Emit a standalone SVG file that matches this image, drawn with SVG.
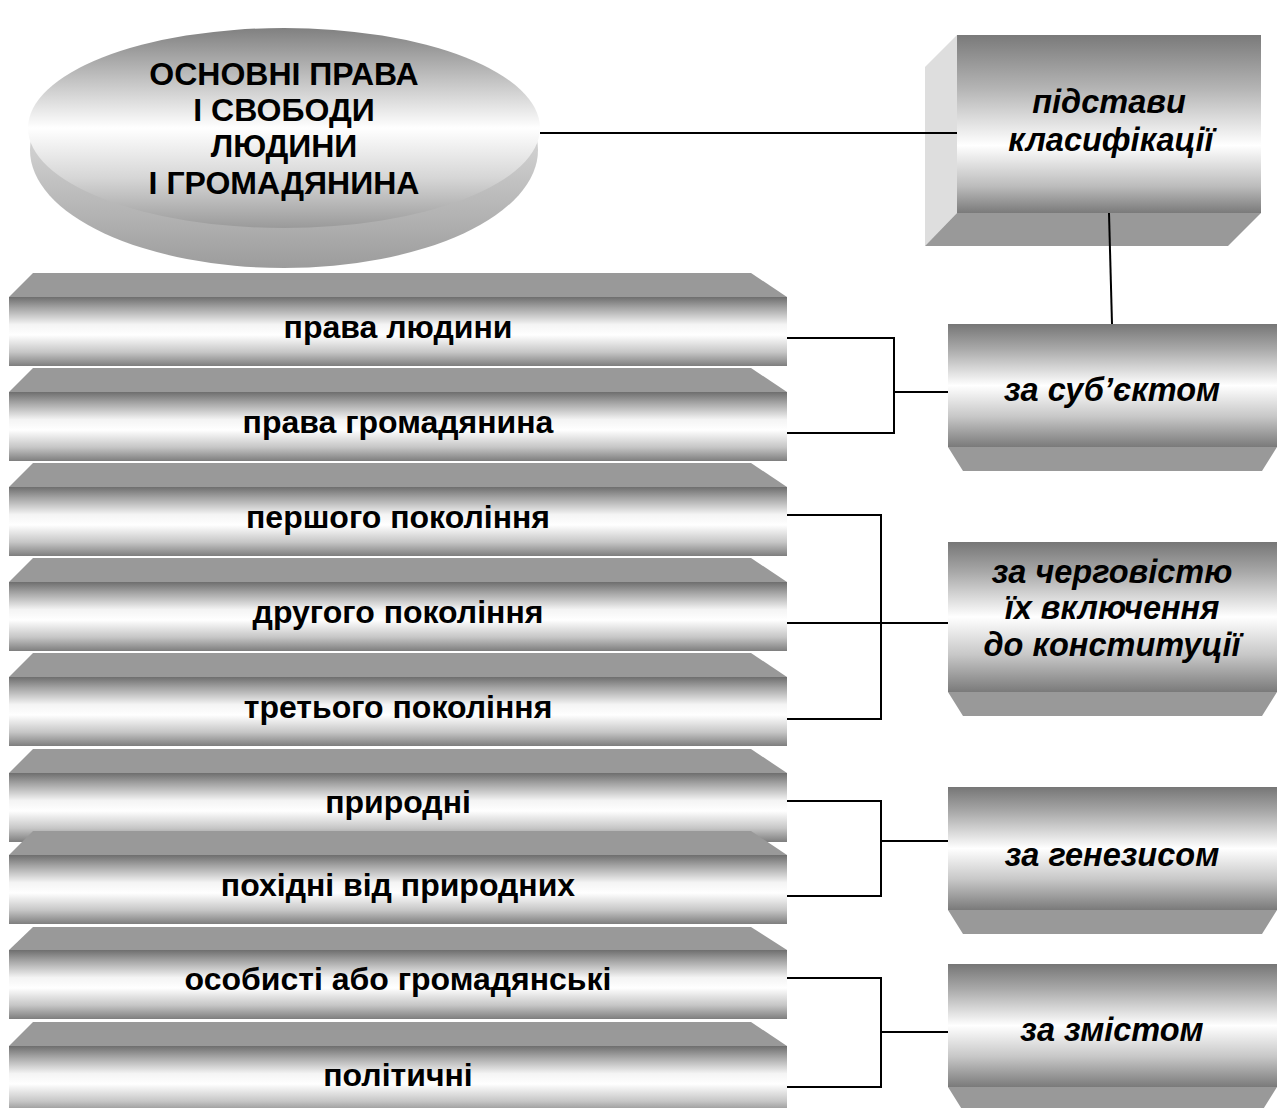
<svg xmlns="http://www.w3.org/2000/svg" width="1277" height="1108" viewBox="0 0 1277 1108">
  <defs>
    <linearGradient id="faceG" x1="0" y1="0" x2="0" y2="1">
      <stop offset="0" stop-color="#6e6e6e"/>
      <stop offset="0.15" stop-color="#a2a2a2"/>
      <stop offset="0.4" stop-color="#f4f4f4"/>
      <stop offset="0.55" stop-color="#ffffff"/>
      <stop offset="0.8" stop-color="#c6c6c6"/>
      <stop offset="1" stop-color="#7e7e7e"/>
    </linearGradient>
    <linearGradient id="boxG" x1="0" y1="0" x2="0" y2="1">
      <stop offset="0" stop-color="#767676"/>
      <stop offset="0.2" stop-color="#a8a8a8"/>
      <stop offset="0.5" stop-color="#ffffff"/>
      <stop offset="0.75" stop-color="#c8c8c8"/>
      <stop offset="1" stop-color="#7a7a7a"/>
    </linearGradient>
    <linearGradient id="topBoxG" x1="0" y1="0" x2="0" y2="1">
      <stop offset="0" stop-color="#7a7a7a"/>
      <stop offset="0.3" stop-color="#b4b4b4"/>
      <stop offset="0.62" stop-color="#ffffff"/>
      <stop offset="0.85" stop-color="#bcbcbc"/>
      <stop offset="1" stop-color="#7a7a7a"/>
    </linearGradient>
    <linearGradient id="ellTopG" x1="0" y1="0" x2="0" y2="1">
      <stop offset="0" stop-color="#808080"/>
      <stop offset="0.25" stop-color="#c0c0c0"/>
      <stop offset="0.5" stop-color="#ffffff"/>
      <stop offset="0.75" stop-color="#d6d6d6"/>
      <stop offset="1" stop-color="#9a9a9a"/>
    </linearGradient>
    <linearGradient id="ellSideG" x1="0" y1="0" x2="0" y2="1">
      <stop offset="0.5" stop-color="#cfcfcf"/>
      <stop offset="1" stop-color="#9c9c9c"/>
    </linearGradient>
    <style>
      .bev { fill: #999999; }
      .side { fill: #dedede; }
      .face { fill: url(#faceG); }
      .box { fill: url(#boxG); }
      .lbl { font-family: "Liberation Sans", Arial, sans-serif; font-weight: bold; font-size: 32px; fill: #000; text-anchor: middle; }
      .ital { font-family: "Liberation Sans", Arial, sans-serif; font-weight: bold; font-style: italic; font-size: 32.5px; fill: #000; text-anchor: middle; }
      .conn { fill: none; stroke: #000; stroke-width: 2; }
    </style>
  </defs>
  <rect width="1277" height="1108" fill="#ffffff"/>

  <g id="main-ellipse">
    <ellipse cx="284" cy="150" rx="254" ry="118" fill="url(#ellSideG)"/>
    <ellipse cx="284" cy="128" rx="256" ry="100" fill="url(#ellTopG)"/>
    <text class="lbl" x="284" y="85">ОСНОВНІ ПРАВА</text>
    <text class="lbl" x="284" y="121">І СВОБОДИ</text>
    <text class="lbl" x="284" y="157">ЛЮДИНИ</text>
    <text class="lbl" x="284" y="194">І ГРОМАДЯНИНА</text>
  </g>

  <g id="classification-basis">
    <polygon class="side" points="925,67 957,35 957,213 925,246"/>
    <polygon class="bev" points="957,213 1261,213 1228,246 925,246"/>
    <rect x="957" y="35" width="304" height="178" fill="url(#topBoxG)"/>
    <text class="ital" x="1109" y="113">підстави</text>
    <text class="ital" x="1111" y="151">класифікації</text>
  </g>

  <g id="bar-human-rights">
    <polygon class="bev" points="9,297 33,273 751,273 787,297"/>
    <rect class="face" x="9" y="297" width="778" height="69"/>
    <text class="lbl" x="398" y="338">права людини</text>
  </g>
  <g id="bar-citizen-rights">
    <polygon class="bev" points="9,392 33,368 751,368 787,392"/>
    <rect class="face" x="9" y="392" width="778" height="69"/>
    <text class="lbl" x="398" y="433">права громадянина</text>
  </g>
  <g id="bar-first-generation">
    <polygon class="bev" points="9,487 33,463 751,463 787,487"/>
    <rect class="face" x="9" y="487" width="778" height="69"/>
    <text class="lbl" x="398" y="528">першого покоління</text>
  </g>
  <g id="bar-second-generation">
    <polygon class="bev" points="9,582 33,558 751,558 787,582"/>
    <rect class="face" x="9" y="582" width="778" height="69"/>
    <text class="lbl" x="398" y="623">другого покоління</text>
  </g>
  <g id="bar-third-generation">
    <polygon class="bev" points="9,677 33,653 751,653 787,677"/>
    <rect class="face" x="9" y="677" width="778" height="69"/>
    <text class="lbl" x="398" y="718">третього покоління</text>
  </g>
  <g id="bar-natural">
    <polygon class="bev" points="9,773 33,749 751,749 787,773"/>
    <rect class="face" x="9" y="773" width="778" height="69"/>
    <text class="lbl" x="398" y="813">природні</text>
  </g>
  <g id="bar-derived">
    <polygon class="bev" points="9,855 33,831 751,831 787,855"/>
    <rect class="face" x="9" y="855" width="778" height="69"/>
    <text class="lbl" x="398" y="896">похідні від природних</text>
  </g>
  <g id="bar-personal">
    <polygon class="bev" points="9,950 33,927 751,927 787,950"/>
    <rect class="face" x="9" y="950" width="778" height="69"/>
    <text class="lbl" x="398" y="990">особисті або громадянські</text>
  </g>
  <g id="bar-political">
    <polygon class="bev" points="9,1046 33,1022 751,1022 787,1046"/>
    <rect class="face" x="9" y="1046" width="778" height="69"/>
    <text class="lbl" x="398" y="1086">політичні</text>
  </g>

  <g id="box-subject">
    <polygon class="bev" points="948,447 1277,447 1262,471 963,471"/>
    <rect class="box" x="948" y="324" width="329" height="123"/>
    <text class="ital" x="1112" y="401">за суб’єктом</text>
  </g>
  <g id="box-order">
    <polygon class="bev" points="948,692 1277,692 1262,716 963,716"/>
    <rect class="box" x="948" y="542" width="329" height="150"/>
    <text class="ital" x="1112" y="583">за черговістю</text>
    <text class="ital" x="1112" y="619">їх включення</text>
    <text class="ital" x="1112" y="656">до конституції</text>
  </g>
  <g id="box-genesis">
    <polygon class="bev" points="948,910 1277,910 1262,934 963,934"/>
    <rect class="box" x="948" y="787" width="329" height="123"/>
    <text class="ital" x="1112" y="866">за генезисом</text>
  </g>
  <g id="box-content">
    <polygon class="bev" points="948,1087 1277,1087 1262,1111 963,1111"/>
    <rect class="box" x="948" y="964" width="329" height="123"/>
    <text class="ital" x="1112" y="1041">за змістом</text>
  </g>

  <g id="connectors">
    <line class="conn" x1="540" y1="133" x2="957" y2="133"/>
    <line class="conn" x1="1109" y1="213" x2="1112" y2="324"/>
    <polyline class="conn" points="787,338 894,338 894,433 787,433"/>
    <line class="conn" x1="894" y1="392" x2="948" y2="392"/>
    <polyline class="conn" points="787,515 881,515 881,719 787,719"/>
    <line class="conn" x1="787" y1="623" x2="948" y2="623"/>
    <polyline class="conn" points="787,801 881,801 881,896 787,896"/>
    <line class="conn" x1="881" y1="841" x2="948" y2="841"/>
    <polyline class="conn" points="787,978 881,978 881,1087 787,1087"/>
    <line class="conn" x1="881" y1="1032" x2="948" y2="1032"/>
  </g>
</svg>
